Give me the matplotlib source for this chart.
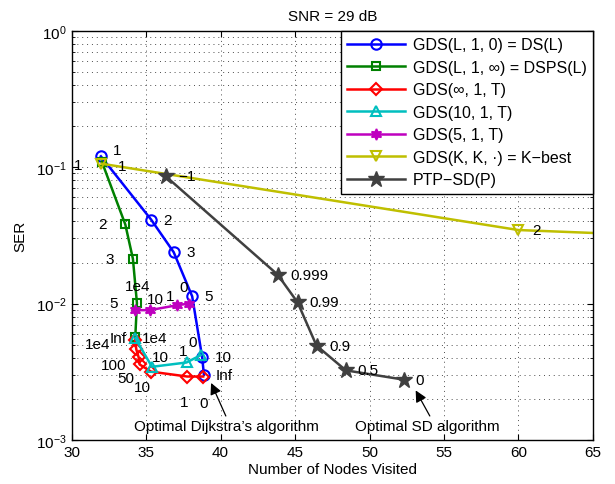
import matplotlib
matplotlib.use("Agg")
import matplotlib.pyplot as plt
from matplotlib.ticker import LogLocator, NullFormatter, MultipleLocator

plt.rcParams['font.family'] = ['Liberation Sans', 'DejaVu Sans']
plt.rcParams['mathtext.fontset'] = 'custom'
plt.rcParams['mathtext.rm'] = 'Liberation Sans'
plt.rcParams['mathtext.it'] = 'Liberation Sans'
plt.rcParams['mathtext.default'] = 'regular'

# ---------------- data ----------------
title = "SNR = 29 dB"
xlabel = "Number of Nodes Visited"
ylabel = "SER"

ds_x = [31.96, 35.33, 36.85, 38.09, 38.76, 38.88]
ds_y = [0.120, 0.0413, 0.0238, 0.0113, 0.00406, 0.00300]
ds_lab = ["1", "2", "3", "5", "10", "Inf"]

dsps_x = [32.02, 33.60, 34.11, 34.38, 34.27]
dsps_y = [0.110, 0.0380, 0.0213, 0.0101, 0.00570]
dsps_lab = ["1", "2", "3", "5", "Inf"]

inf_x = [34.25, 34.34, 34.49, 34.56, 35.33, 37.75, 38.83]
inf_y = [0.00545, 0.00461, 0.00406, 0.00358, 0.00317, 0.00292, 0.00292]
inf_lab = ["", "1e4", "100", "50", "10", "1", "0"]

g10_x = [34.27, 35.39, 37.71, 38.65]
g10_y = [0.00557, 0.00344, 0.00370, 0.00418]
g10_lab = ["1e4", "10", "1", "0"]

g5_x = [34.27, 35.24, 37.08, 37.87]
g5_y = [0.00895, 0.00895, 0.00973, 0.0100]
g5_lab = ["1e4", "10", "1", "0"]

kb_x = [32.0, 60.0, 95.0]
kb_y = [0.106, 0.0346, 0.0245]
kb_lab = ["1", "2", "3"]

ptp_x = [36.33, 43.83, 45.17, 46.44, 48.41, 52.30]
ptp_y = [0.0855, 0.0163, 0.0102, 0.00492, 0.00324, 0.00277]
ptp_lab = ["\u22121", "0.999", "0.99", "0.9", "0.5", "0"]

legend_labels = ["GDS(L, 1, 0) = DS(L)",
                 "GDS(L, 1, \u221e) = DSPS(L)",
                 "GDS(\u221e, 1, T)",
                 "GDS(10, 1, T)",
                 "GDS(5, 1, T)",
                 "GDS(K, K, \u00b7) = K\u2212best",
                 "PTP\u2212SD(P)"]

note1 = "Optimal Dijkstra\u2019s algorithm"
note2 = "Optimal SD algorithm"

# ---------------- layout / style ----------------
fs = 11
fig = plt.figure(figsize=(6.15, 4.85), dpi=100)
ax = fig.add_axes([0.1166, 0.0907, 0.8474, 0.8439])

lw = 1.8
ms = 7.5
series = [
    (ds_x, ds_y, ds_lab, dict(color=(0, 0, 1), marker='o', mfc='none', mew=1.5),
     [(16, 6), (16, 0), (17, 0), (16, 0), (21, 0), (20, 0)]),
    (dsps_x, dsps_y, dsps_lab, dict(color=(0, 0.5, 0), marker='s', mfc='none', mew=1.5, ms=6),
     [(20, -4), (-23, 0), (-23, 0), (-23, 0), (-17, -1)]),
    (inf_x, inf_y, inf_lab, dict(color=(1, 0, 0), marker='D', mfc='none', mew=1.5, ms=6),
     [(0, 0), (-39, 5), (-25, -8), (-14, -14), (-9, -15), (-3, -25), (0, -26)]),
    (g10_x, g10_y, g10_lab, dict(color=(0, 0.75, 0.75), marker='^', mfc='none', mew=1.5),
     [(19, 0), (8, 10), (-3, 11), (-8, 13)]),
    (g5_x, g5_y, g5_lab, dict(color=(0.75, 0, 0.75), marker=(6, 1, 0), mfc=(0.75, 0, 0.75), mew=1.2, ms=8),
     [(2, 24), (6, 11), (-7, 9), (-5, 17)]),
    (kb_x, kb_y, kb_lab, dict(color=(0.75, 0.75, 0), marker='v', mfc='none', mew=1.5),
     [(-23, -1), (18, 0), (18, 0)]),
    (ptp_x, ptp_y, ptp_lab, dict(color=(0.25, 0.25, 0.25), marker='*', mfc=(0.25, 0.25, 0.25), ms=12),
     [(21, 0), (32, 0), (27, 0), (23, 0), (22, 0), (16, 0)]),
]

for (xs, ys, labs, st, offs), name in zip(series, legend_labels):
    kw = dict(lw=lw, ms=ms)
    kw.update(st)
    ax.plot(xs, ys, label=name, **kw)

for (xs, ys, labs, st, offs) in series:
    for x, y, t, (dx, dy) in zip(xs, ys, labs, offs):
        if t:
            ax.annotate(t, (x, y), xytext=(dx, dy), textcoords='offset pixels',
                        ha='center', va='center', fontsize=fs, color='black')

arrowprops = dict(arrowstyle='-|>', color='black', lw=0.9, mutation_scale=17,
                  shrinkA=0, shrinkB=0)
ax.annotate("", xy=(39.36, 0.00262), xytext=(40.35, 0.00150), arrowprops=arrowprops)
ax.annotate("", xy=(53.1, 0.00231), xytext=(54.05, 0.00150), arrowprops=arrowprops)
ax.text(40.36, 0.00127, note1, ha='center', va='center', fontsize=fs)
ax.text(53.9, 0.00127, note2, ha='center', va='center', fontsize=fs)

ax.set_xscale('linear')
ax.set_yscale('log')
ax.set_xlim(30, 65)
ax.set_ylim(1e-3, 1)
ax.xaxis.set_major_locator(MultipleLocator(5))
ax.yaxis.set_major_locator(LogLocator(base=10, numticks=10))
ax.yaxis.set_minor_locator(LogLocator(base=10, subs=range(2, 10), numticks=20))
ax.yaxis.set_minor_formatter(NullFormatter())

grid_kw = dict(color='0.3', linestyle=(0, (1, 4)), linewidth=0.7)
ax.grid(True, which='major', axis='both', **grid_kw)
ax.grid(True, which='minor', axis='y', **grid_kw)
ax.set_axisbelow(True)

ax.tick_params(which='both', direction='in', top=True, right=True, labelsize=fs)
ax.tick_params(which='major', length=4)
ax.tick_params(which='minor', length=2)
for s in ax.spines.values():
    s.set_linewidth(1.0)

ax.set_title(title, fontsize=fs, pad=8)
ax.set_xlabel(xlabel, fontsize=fs, labelpad=2)
ax.set_ylabel(ylabel, fontsize=fs, labelpad=6)

leg = ax.legend(loc='upper right', fontsize=11.5, handlelength=3.6, handletextpad=0.5,
                borderpad=0.4, labelspacing=0.47, borderaxespad=0.0, fancybox=False,
                framealpha=1, edgecolor='black')
leg.get_frame().set_linewidth(1.0)

fig.savefig("out.png", dpi=100)
